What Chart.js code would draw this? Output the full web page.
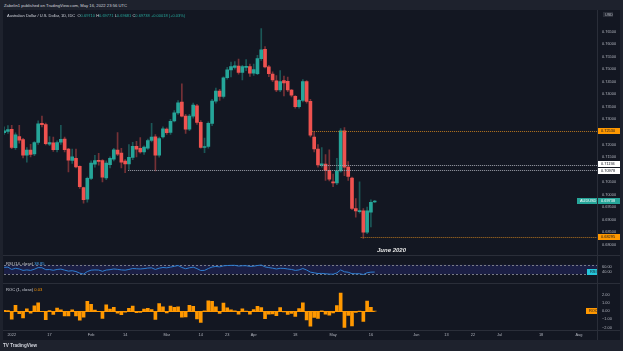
<!DOCTYPE html>
<html>
<head>
<meta charset="utf-8">
<script src="https://cdn.jsdelivr.net/npm/chart.js@4.4.1/dist/chart.umd.min.js"></script>
<style>
  html, body { margin: 0; padding: 0; width: 623px; height: 351px; overflow: hidden; background: #1e222d; font-family: "Liberation Sans", Arial, sans-serif; }
  .pane { position: absolute; left: 3px; width: 617px; background: #131722; }
  canvas { position: absolute; left: 0; }
  .txt { position: absolute; white-space: nowrap; line-height: 1; }
  .sep { position: absolute; background: #2a2e39; }
</style>
</head>
<body>
<div class="pane" style="top:10px;height:330px;"></div>
<canvas id="mainChart" width="623" height="245" style="top:11px;width:623px;height:245px;"></canvas>
<canvas id="rsiChart" width="623" height="27" style="top:256px;width:623px;height:27px;"></canvas>
<canvas id="rocChart" width="623" height="56" style="top:284px;width:623px;height:56px;"></canvas>
<div class="sep" style="left:3px;top:255px;width:617px;height:1px;"></div>
<div class="sep" style="left:3px;top:283px;width:617px;height:1px;"></div>
<div class="sep" style="left:3px;top:330px;width:617px;height:1px;"></div>
<div class="sep" style="left:597px;top:10px;width:1px;height:330px;"></div>

<div class="txt" style="left:4px;top:3.5px;font-size:4.2px;color:#d1d4dc;">Zabelin1 published on TradingView.com, May 16, 2022 23:56 UTC</div>
<div class="txt" style="left:7px;top:13.5px;font-size:4px;color:#d1d4dc;">Australian Dollar / U.S. Dollar, 1D, IDC&nbsp;&nbsp;O<span style="color:#26a69a">0.69710</span> H<span style="color:#26a69a">0.69771</span> L<span style="color:#26a69a">0.69681</span> C<span style="color:#26a69a">0.69738</span> <span style="color:#26a69a">+0.00018 (+0.03%)</span></div>
<div class="txt" style="left:6px;top:261.5px;font-size:4.1px;color:#d1d4dc;">RSI (14, close) <span style="color:#42a5f5">38.85</span></div>
<div class="txt" style="left:6px;top:288px;font-size:4.1px;color:#d1d4dc;">ROC (1, close) <span style="color:#ff9800">0.03</span></div>
<div class="txt" style="left:377px;top:246.5px;font-size:6px;font-weight:bold;font-style:italic;color:#e8e8e8;">June 2020</div>
<div class="txt" style="left:3px;top:344px;font-size:4.6px;font-weight:bold;color:#d1d4dc;">TV&nbsp;TradingView</div>

<script>
// AUD/USD daily candles, index 0 = 3 Jan 2022 (trading days)
const firstIdx = -2;
const opens = [0.7247,0.7252,0.7260,0.7187,0.7232,0.7220,0.7157,0.7178,0.7162,0.7208,
  0.7284,0.7279,0.7201,0.7207,0.7179,0.7209,0.7222,0.7182,0.7137,0.7145,
  0.7113,0.7028,0.6982,0.7065,0.7122,0.7137,0.7136,0.7067,0.7120,0.7142,
  0.7178,0.7166,0.7134,0.7123,0.7149,0.7193,0.7185,0.7170,0.7185,0.7216,
  0.7231,0.7157,0.7230,0.7261,0.7248,0.7294,0.7326,0.7369,0.7313,0.7261,
  0.7313,0.7354,0.7288,0.7188,0.7192,0.7284,0.7373,0.7413,0.7392,0.7466,
  0.7497,0.7507,0.7512,0.7487,0.7507,0.7510,0.7484,0.7482,0.7542,0.7579,
  0.7509,0.7481,0.7454,0.7417,0.7455,0.7452,0.7417,0.7392,0.7351,0.7376,
  0.7451,0.7372,0.7230,0.7182,0.7118,0.7122,0.7097,0.7051,0.7047,0.7095,
  0.7254,0.7110,0.7066,0.6945,0.6932,0.6936,0.6851,0.6930,0.69710];
const highs = [0.7270,0.7275,0.7276,0.7246,0.7276,0.7225,0.7188,0.7201,0.7212,0.7294,
  0.7313,0.7285,0.7232,0.7230,0.7215,0.7276,0.7230,0.7185,0.7182,0.7182,
  0.7115,0.7030,0.7070,0.7135,0.7157,0.7165,0.7140,0.7135,0.7151,0.7185,
  0.7247,0.7185,0.7140,0.7200,0.7209,0.7213,0.7228,0.7195,0.7222,0.7284,
  0.7240,0.7230,0.7270,0.7266,0.7300,0.7335,0.7375,0.7442,0.7320,0.7320,
  0.7365,0.7360,0.7295,0.7226,0.7290,0.7380,0.7425,0.7420,0.7470,0.7507,
  0.7528,0.7530,0.7540,0.7515,0.7538,0.7520,0.7520,0.7555,0.7662,0.7590,
  0.7515,0.7490,0.7475,0.7494,0.7473,0.7469,0.7420,0.7395,0.7380,0.7459,
  0.7455,0.7380,0.7252,0.7200,0.7188,0.7160,0.7179,0.7082,0.7145,0.7263,
  0.7267,0.7132,0.7070,0.6985,0.7051,0.6945,0.6951,0.6980,0.69771];
const lows = [0.7240,0.7244,0.7183,0.7180,0.7205,0.7147,0.7130,0.7151,0.7155,0.7200,
  0.7270,0.7198,0.7195,0.7172,0.7170,0.7200,0.7170,0.7091,0.7125,0.7107,
  0.7025,0.6966,0.6970,0.7060,0.7110,0.7118,0.7051,0.7060,0.7107,0.7135,
  0.7155,0.7107,0.7088,0.7101,0.7140,0.7151,0.7165,0.7160,0.7180,0.7210,
  0.7095,0.7150,0.7225,0.7240,0.7240,0.7290,0.7320,0.7310,0.7244,0.7255,
  0.7305,0.7280,0.7185,0.7167,0.7185,0.7275,0.7365,0.7376,0.7385,0.7460,
  0.7469,0.7500,0.7480,0.7457,0.7494,0.7471,0.7475,0.7478,0.7535,0.7505,
  0.7470,0.7450,0.7410,0.7410,0.7394,0.7410,0.7390,0.7345,0.7345,0.7370,
  0.7365,0.7230,0.7170,0.7110,0.7110,0.7057,0.7055,0.7032,0.7040,0.7090,
  0.7076,0.7057,0.6940,0.6910,0.6926,0.6826,0.6845,0.6872,0.69681];
const closes = [0.7254,0.7259,0.7188,0.7239,0.7217,0.7157,0.7178,0.7160,0.7208,0.7282,
  0.7279,0.7203,0.7208,0.7179,0.7208,0.7221,0.7179,0.7138,0.7151,0.7111,
  0.7032,0.6980,0.7065,0.7126,0.7136,0.7133,0.7070,0.7126,0.7145,0.7179,
  0.7161,0.7130,0.7123,0.7149,0.7193,0.7181,0.7170,0.7190,0.7216,0.7230,
  0.7157,0.7224,0.7262,0.7247,0.7292,0.7326,0.7366,0.7313,0.7261,0.7313,
  0.7357,0.7288,0.7188,0.7192,0.7284,0.7373,0.7413,0.7392,0.7466,0.7497,
  0.7510,0.7513,0.7487,0.7510,0.7511,0.7484,0.7498,0.7542,0.7577,0.7509,
  0.7482,0.7457,0.7417,0.7451,0.7445,0.7417,0.7397,0.7351,0.7376,0.7451,
  0.7372,0.7237,0.7182,0.7119,0.7123,0.7097,0.7062,0.7047,0.7095,0.7254,
  0.7110,0.7073,0.6945,0.6935,0.6937,0.6851,0.6936,0.6970,0.69738];

const rsiValues = [59,60,50,55,52,46,48,46,51,58,
  57.5,49,49.5,46.5,50,51.5,47,43,44.5,41,
  34,30,41,47,48,47.5,42,47.5,49,52,
  50.5,48,47,50,54,53,52,53.5,56,57,
  50,55.5,58.5,57,60,63.5,67,58.5,53,57,
  60,53.5,45.5,46,54,60.5,63,61,65.5,67,
  67.5,67.7,64.5,66,66,63,64,67,69,61,
  58,55.5,52,55,54.5,52,50,46,48,54,
  47.5,38.5,35.5,32.5,33,31.5,30,29.5,35,48,
  40,38,32,31.5,31.7,28,36,38.5,38.8];
const rocValues = [0.10,0.07,-0.98,0.71,-0.30,-0.83,0.29,-0.25,0.67,1.03,
  -0.04,-1.04,0.07,-0.40,0.40,0.18,-0.58,-0.57,0.18,-0.56,
  -1.11,-0.74,1.22,0.86,0.14,-0.04,-0.88,0.79,0.27,0.48,
  -0.25,-0.43,-0.10,0.37,0.62,-0.17,-0.15,0.28,0.36,0.19,
  -1.01,0.94,0.53,-0.21,0.62,0.47,0.55,-0.72,-0.71,0.72,
  0.60,-0.94,-1.37,0.06,1.28,1.22,0.54,-0.28,1.00,0.42,
  0.17,0.04,-0.35,0.31,0.01,-0.36,0.19,0.59,0.46,-0.90,
  -0.36,-0.33,-0.54,0.46,-0.08,-0.38,-0.27,-0.62,0.34,1.02,
  -1.06,-1.83,-0.76,-0.88,0.06,-0.37,-0.49,-0.21,0.68,2.24,
  -1.99,-0.52,-1.81,-0.14,0.03,-1.24,1.24,0.49,0.03];

// price axis and time axis ticks
const priceTicks = [0.68,0.685,0.69,0.695,0.70,0.705,0.71,0.715,0.72,0.725,0.73,0.735,0.74,0.745,0.75,0.755,0.76,0.765];
const timeTickIdx = [0,10,21,30,41,50,57,64,75,85,95,107,115,122,129,140,150];
const timeTickLabels = ["2022","17","Feb","14","Mar","14","23","Apr","18","May","16","Jun","13","22","Jul","18","Aug"];
const rsiTicks = [40,60];
const rocTicks = [-2,-1,0,1,2];

// drawn levels: price, first candle index
const levelPrices = [0.72530,0.71194,0.70978,0.68295];
const levelStart = [79.4,81.5,30.8,92.3];
const levelColors = ["#b8761f","#9fa3ad","#9fa3ad","#b8761f"];
const levelBoxBg = ["#ff9800","#ffffff","#ffffff","#ff9800"];
const lastPrice = 0.69738;

const xMin = -2.04, xMax = 154.8;
const UP = "#26a69a", DOWN = "#ef5350";
const AXIS_W = 26;
const FONT = "'Liberation Sans', Arial, sans-serif";
const tickFont = { size: 3.9, family: FONT };
const idx = opens.map((_, k) => k + firstIdx);
const isUp = k => closes[k] >= opens[k];

function fixWidth(s) { s.width = AXIS_W; }

function box(ctx, y, text, bg, fg, x0, w) {
  ctx.fillStyle = bg;
  ctx.fillRect(x0, Math.round(y) - 3, w, 6);
  ctx.fillStyle = fg;
  ctx.font = "3.9px " + FONT;
  ctx.textBaseline = "middle";
  ctx.textAlign = "left";
  ctx.fillText(text, x0 + 3, Math.round(y) + 0.2);
}

const levelsPlugin = {
  id: "levels",
  afterDatasetsDraw(chart) {
    const { ctx, chartArea, scales } = chart;
    ctx.save();
    levelPrices.forEach((p, k) => {
      const y = Math.round(scales.y.getPixelForValue(p)) + 0.5;
      ctx.strokeStyle = levelColors[k];
      ctx.lineWidth = 1;
      ctx.setLineDash([1, 1]);
      ctx.beginPath();
      ctx.moveTo(scales.x.getPixelForValue(levelStart[k]), y);
      ctx.lineTo(chartArea.right, y);
      ctx.stroke();
    });
    ctx.setLineDash([]);
    levelPrices.forEach((p, k) => {
      let y = scales.y.getPixelForValue(p);
      if (k === 1) y -= 0.5;
      if (k === 2) y += 0.5;
      box(ctx, y, p.toFixed(5), levelBoxBg[k], "#131722", chartArea.right + 1, 22);
    });
    const yl = scales.y.getPixelForValue(lastPrice);
    box(ctx, yl, lastPrice.toFixed(5), UP, "#ffffff", chartArea.right + 1, 22);
    box(ctx, yl, "AUDUSD", UP, "#ffffff", chartArea.right - 20, 20);
    ctx.fillStyle = "#2a2e39";
    ctx.fillRect(chartArea.right + 6, 1, 10, 5);
    ctx.fillStyle = "#b2b5be";
    ctx.font = "3.8px " + FONT;
    ctx.textBaseline = "middle";
    ctx.fillText("USD", chartArea.right + 8, 3.5);
    ctx.restore();
  }
};

new Chart(document.getElementById("mainChart"), {
  type: "bar",
  data: {
    datasets: [
      {
        data: idx.map((x, k) => ({ x, y: [lows[k], highs[k]] })),
        backgroundColor: idx.map((x, k) => isUp(k) ? "rgba(38,166,154,0.45)" : "rgba(239,83,80,0.45)"),
        barThickness: 1, grouped: false
      },
      {
        data: idx.map((x, k) => ({ x, y: [opens[k], closes[k]] })),
        backgroundColor: idx.map((x, k) => isUp(k) ? UP : DOWN),
        barThickness: 3, minBarLength: 1, grouped: false
      }
    ]
  },
  options: {
    responsive: false, animation: false, devicePixelRatio: 1,
    layout: { padding: { left: 4, right: 0, top: 0, bottom: 0 } },
    plugins: { legend: { display: false }, tooltip: { enabled: false } },
    scales: {
      x: { type: "linear", min: xMin, max: xMax, offset: false, display: false },
      y: {
        position: "right", min: 0.678502, max: 0.770262,
        grid: { display: false, drawTicks: false }, border: { display: false },
        afterFit: fixWidth,
        afterBuildTicks: s => { s.ticks = priceTicks.map(v => ({ value: v })); },
        ticks: { color: "#b2b5be", font: tickFont, padding: 5, callback: v => v.toFixed(5) }
      }
    }
  },
  plugins: [levelsPlugin]
});

const rsiPlugin = {
  id: "rsiBand",
  beforeDatasetsDraw(chart) {
    const { ctx, chartArea, scales } = chart;
    const y70 = scales.y.getPixelForValue(70), y30 = scales.y.getPixelForValue(30);
    ctx.save();
    ctx.fillStyle = "#1b1f45";
    ctx.fillRect(chartArea.left, y70, chartArea.right - chartArea.left, y30 - y70);
    ctx.strokeStyle = "#787b86";
    ctx.setLineDash([2, 2]);
    [y70, y30].forEach(y => {
      ctx.beginPath();
      ctx.moveTo(chartArea.left, Math.round(y) + 0.5);
      ctx.lineTo(chartArea.right, Math.round(y) + 0.5);
      ctx.stroke();
    });
    ctx.restore();
  },
  afterDatasetsDraw(chart) {
    const { ctx, chartArea, scales } = chart;
    const y = scales.y.getPixelForValue(rsiValues[rsiValues.length - 1]);
    ctx.save();
    box(ctx, y, "RSI", "#26c6da", "#131722", chartArea.right - 10, 10);
    ctx.restore();
  }
};

new Chart(document.getElementById("rsiChart"), {
  type: "line",
  data: {
    datasets: [{
      data: idx.map((x, k) => ({ x, y: rsiValues[k] })),
      borderColor: "#2f7fd0", borderWidth: 1, pointRadius: 0, tension: 0
    }]
  },
  options: {
    responsive: false, animation: false, devicePixelRatio: 1,
    layout: { padding: { left: 4, right: 0, top: 0, bottom: 0 } },
    plugins: { legend: { display: false }, tooltip: { enabled: false } },
    scales: {
      x: { type: "linear", min: xMin, max: xMax, offset: false, display: false },
      y: {
        position: "right", min: 23.3, max: 76.3,
        grid: { display: false, drawTicks: false }, border: { display: false },
        afterFit: fixWidth,
        afterBuildTicks: s => { s.ticks = rsiTicks.map(v => ({ value: v })); },
        ticks: { color: "#b2b5be", font: tickFont, padding: 5, callback: v => v.toFixed(2) }
      }
    }
  },
  plugins: [rsiPlugin]
});

const rocPlugin = {
  id: "rocBase",
  beforeDatasetsDraw(chart) {
    const { ctx, scales } = chart;
    const y = Math.round(scales.y.getPixelForValue(0)) + 0.5;
    ctx.save();
    ctx.strokeStyle = "#ff9800";
    ctx.lineWidth = 1;
    ctx.beginPath();
    ctx.moveTo(scales.x.getPixelForValue(idx[0]), y);
    ctx.lineTo(scales.x.getPixelForValue(idx[idx.length - 1]), y);
    ctx.stroke();
    ctx.restore();
  },
  afterDatasetsDraw(chart) {
    const { ctx, chartArea, scales } = chart;
    const y = scales.y.getPixelForValue(rocValues[rocValues.length - 1]);
    ctx.save();
    box(ctx, y, "ROC", "#ff9800", "#131722", chartArea.right - 11, 11);
    ctx.restore();
  }
};

new Chart(document.getElementById("rocChart"), {
  type: "bar",
  data: {
    datasets: [{
      data: idx.map((x, k) => ({ x, y: rocValues[k] })),
      backgroundColor: "#ff9800", barThickness: 3
    }]
  },
  options: {
    responsive: false, animation: false, devicePixelRatio: 1,
    layout: { padding: { left: 4, right: 0, top: 0, bottom: 0 } },
    plugins: { legend: { display: false }, tooltip: { enabled: false } },
    scales: {
      x: {
        type: "linear", min: xMin, max: xMax, offset: false,
        grid: { display: false, drawTicks: false }, border: { display: false },
        afterFit: s => { s.height = 10; },
        afterBuildTicks: s => { s.ticks = timeTickIdx.map(v => ({ value: v })); },
        ticks: {
          color: "#b2b5be", font: tickFont, padding: 3, maxRotation: 0, autoSkip: false,
          callback: v => timeTickLabels[timeTickIdx.indexOf(v)]
        }
      },
      y: {
        position: "right", min: -2.30, max: 2.44,
        grid: { display: false, drawTicks: false }, border: { display: false },
        afterFit: fixWidth,
        afterBuildTicks: s => { s.ticks = rocTicks.map(v => ({ value: v })); },
        ticks: { color: "#b2b5be", font: tickFont, padding: 5, callback: v => (v < 0 ? "\u2212" : "") + Math.abs(v).toFixed(2) }
      }
    }
  },
  plugins: [rocPlugin]
});
</script>
</body>
</html>
